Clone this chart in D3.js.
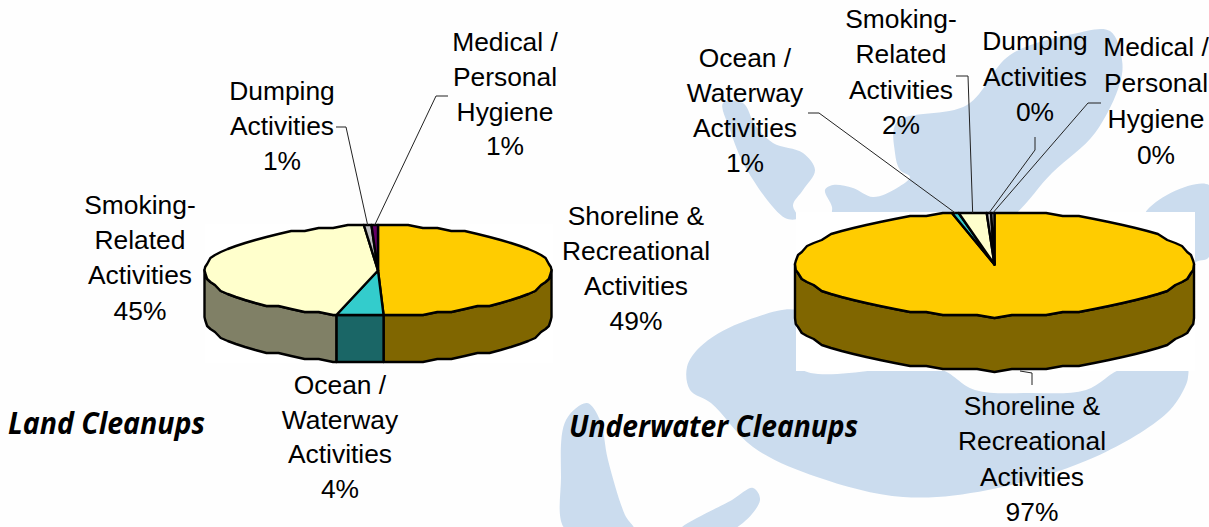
<!DOCTYPE html>
<html><head><meta charset="utf-8">
<style>html,body{margin:0;padding:0;background:#fefefe}svg{display:block}</style>
<script src="https://cdn.jsdelivr.net/npm/d3@7/dist/d3.min.js"></script>
</head><body><svg id="c" width="1209" height="527"></svg>
<script>
const categories = ["Shoreline &\nRecreational\nActivities","Ocean /\nWaterway\nActivities","Smoking-\nRelated\nActivities","Dumping\nActivities","Medical /\nPersonal\nHygiene"];
const landValues = [49.49,4.37,44.84,0.7,0.6];
const underwaterValues = [96.58,0.55,2.25,0.35,0.27];
const landColors = ["#FFCC00","#33CCCC","#FFFFCC","#C0C0C0","#660066"];
const underwaterColors = ["#FFCC00","#33CCCC","#FFFFCC","#C0C0C0","#969696"];
const titles = ["Land Cleanups","Underwater Cleanups"];

// watermark artwork behind the charts
const watermark = [
 [[1110,31],[1122,60],[1120,83],[1095,133],[1052,173],[1000,225],[900,240],[832,225],[832,207],[825,190],[833,185],[853,188],[873,197],[897,188],[910,177],[900,170],[895,153],[897,122],[967,105],[1010,55],[1073,34]],
 [[723,103],[743,103],[755,125],[773,143],[803,153],[815,170],[803,190],[793,205],[798,218],[785,218],[747,170],[730,130]],
 [[1145,213],[1209,185],[1209,257],[1195,263],[1190,300],[1145,300]],
 [[800,312],[740,323],[700,347],[687,367],[690,390],[711,403],[753,447],[817,477],[903,497],[988,490],[1095,457],[1167,413],[1185,387],[1188,377],[1187,368],[1124,368],[1086,390],[1031,393],[975,390],[937,368],[800,368]],
 [[566,530],[561,477],[566,420],[587,403],[600,420],[608,460],[625,515],[634,530]],
 [[680,530],[732,500],[753,488],[760,500],[732,530]]
];

const svg = d3.select("#c");
const FONT = "'Liberation Sans',Arial,sans-serif";
svg.append("g").selectAll("path").data(watermark).join("path")
  .attr("d", d3.line().curve(d3.curveCatmullRomClosed.alpha(0.5)))
  .attr("fill","#CBDCEE");

function shade(c){const r=d3.rgb(c);return d3.rgb(r.r/2,r.g/2,r.b/2).formatHex();}

function drawPie(cfg){
  const g = svg.append("g");
  const px = d3.scaleLinear().domain([-1,1]).range([cfg.cx-cfg.rx,cfg.cx+cfg.rx]);
  const py = d3.scaleLinear().domain([-1,1]).range([cfg.cy-cfg.ry,cfg.cy+cfg.ry]);
  const slices = d3.pie().sort(null).value(d=>d)(cfg.values);
  const STEP = Math.PI/36, SNAP = 3;
  const pt = (a,dy=0)=>[px(Math.sin(a)), Math.round(py(-Math.cos(a))/SNAP)*SNAP+dy];
  const samples = (a0,a1)=>{
    const out=[a0];
    for(let k=Math.ceil(a0/STEP+1e-6);k*STEP<a1-1e-6;k++) out.push(k*STEP);
    out.push(a1); return out;
  };
  const line = d3.line();
  if(cfg.white) g.append("rect").attr("x",cfg.white[0]).attr("y",cfg.white[1]).attr("width",cfg.white[2]).attr("height",cfg.white[3]).attr("fill","#fff");

  // side wall: only the part of each slice facing the viewer
  slices.forEach((s,i)=>{
    const a0=Math.max(s.startAngle,Math.PI/2), a1=Math.min(s.endAngle,3*Math.PI/2);
    if(a1<=a0) return;
    const as=samples(a0,a1);
    const poly=as.map(a=>pt(a)).concat(as.slice().reverse().map(a=>pt(a,cfg.depth)));
    g.append("path").attr("d",line(poly)+"Z")
      .attr("fill",shade(cfg.colors[i]))
      .attr("stroke","#000").attr("stroke-width",2.4).attr("stroke-linejoin","round");
  });
  // top face
  slices.forEach((s,i)=>{
    const poly=[[px(0),py(0)]].concat(samples(s.startAngle,s.endAngle).map(a=>pt(a)));
    g.append("path").attr("d",line(poly)+"Z")
      .attr("fill",cfg.colors[i]).attr("stroke","#000").attr("stroke-width",2.4).attr("stroke-linejoin","round");
  });
  // leader lines: elbow points, ending on the slice rim
  cfg.leaders.forEach(l=>{
    const s=slices[l.i], mid=(s.startAngle+s.endAngle)/2;
    const end = l.end || pt(mid);
    g.append("path").attr("d",line(l.pts.concat([end]))).attr("fill","none").attr("stroke","#222").attr("stroke-width",1);
  });
  // labels
  cfg.labels.forEach(l=>{
    const lines=categories[l.i].split("\n").concat([Math.round(cfg.values[l.i])+"%"]);
    const t=g.append("text").attr("font-family",FONT).attr("font-size",26.4).attr("fill","#000").attr("text-anchor","middle");
    lines.forEach((txt,k)=>t.append("tspan").attr("x",l.x).attr("y",l.y+k*l.dy).text(txt));
  });
}

drawPie({cx:378,cy:270.5,rx:173.5,ry:45,depth:47,values:landValues,colors:landColors,white:[205,224,348,139],
 leaders:[{i:3,pts:[[336,127],[346,127]]},{i:4,pts:[[448,96],[436,96]]}],
 labels:[{i:0,x:636,y:225,dy:35},{i:1,x:340,y:394,dy:34.7},{i:2,x:140,y:214,dy:35.2},{i:3,x:282,y:100,dy:35},{i:4,x:505,y:51,dy:34.8}]});
drawPie({cx:994.5,cy:264.5,rx:199.5,ry:52,depth:54,values:underwaterValues,colors:underwaterColors,white:[796,212,399,159],
 leaders:[{i:0,pts:[[1032,385],[1032,373],[1020,371]],end:[1020,371]},{i:1,pts:[[808,113],[819,113]]},{i:2,pts:[[956,76],[968,76]]},{i:3,pts:[[1035,137],[1035,150]]},{i:4,pts:[[1101,103],[1088,103]]}],
 labels:[{i:0,x:1032,y:415,dy:35.3},{i:1,x:745,y:67,dy:35},{i:2,x:901,y:28,dy:35.3},{i:3,x:1035,y:50,dy:35.5},{i:4,x:1156,y:56,dy:36}]});

svg.selectAll(".ttl").data(titles).join("text").attr("class","ttl")
  .attr("x",(d,i)=>[8,569][i]).attr("y",(d,i)=>[434,437][i])
  .attr("textLength",(d,i)=>[197,289][i]).attr("lengthAdjust","spacingAndGlyphs")
  .attr("font-family","'Open Sans','Noto Sans',sans-serif").attr("font-weight",700).attr("font-style","italic")
  .attr("font-size",30).attr("fill","#000").text(d=>d);
</script></body></html>
